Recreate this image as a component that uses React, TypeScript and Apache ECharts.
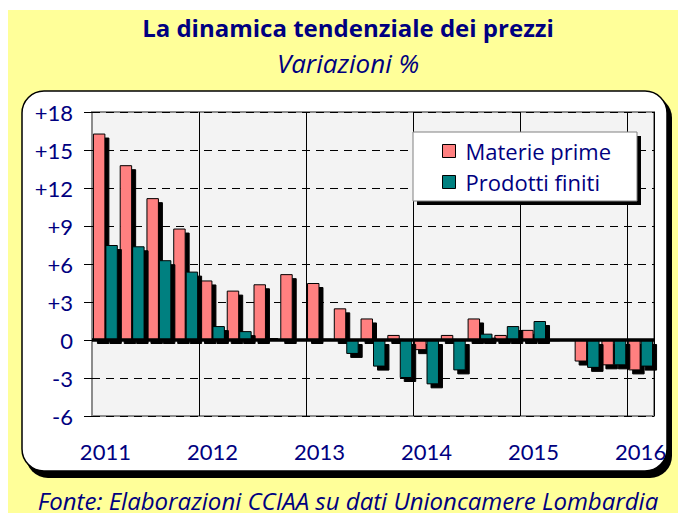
import React, { useEffect, useRef } from "react";
import * as echarts from "echarts";

const quarters = [
  "2011 T1", "2011 T2", "2011 T3", "2011 T4",
  "2012 T1", "2012 T2", "2012 T3", "2012 T4",
  "2013 T1", "2013 T2", "2013 T3", "2013 T4",
  "2014 T1", "2014 T2", "2014 T3", "2014 T4",
  "2015 T1", "2015 T2", "2015 T3", "2015 T4",
  "2016 T1",
];
const materiePrime = [16.3, 13.8, 11.2, 8.8, 4.7, 3.9, 4.4, 5.2, 4.5, 2.5, 1.7, 0.4, -0.8, 0.4, 1.7, 0.4, 0.8, -0.1, -1.7, -2.0, -2.4];
const prodottiFiniti = [7.5, 7.4, 6.3, 5.4, 1.1, 0.7, 0.15, 0.05, 0.1, -1.1, -2.1, -3.0, -3.5, -2.4, 0.5, 1.1, 1.5, 0.02, -2.2, -2.0, -2.1];
const seriesNames = ["Materie prime", "Prodotti finiti"];
const yMin = -6;
const yMax = 18;
const yStep = 3;

const NAVY = "#000080";
const FONT = "Lato";
const WIDE = "Open Sans";

export default function App() {
  const ref = useRef<HTMLDivElement>(null);
  useEffect(() => {
    if (!ref.current) return;
    const chart = echarts.init(ref.current, undefined, { renderer: "svg" });
    const barStyle = (color: string) => ({
      color,
      borderColor: "#000",
      borderWidth: 1,
      shadowColor: "#000",
      shadowBlur: 0,
      shadowOffsetX: 4,
      shadowOffsetY: 4,
    });
    chart.setOption({
      animation: false,
      backgroundColor: "#ffffff",
      textStyle: { fontFamily: FONT },
      title: [
        {
          text: "La dinamica tendenziale dei prezzi",
          left: 348,
          textAlign: "center",
          top: 14,
          padding: 0,
          textStyle: { fontFamily: WIDE, fontWeight: "bold", fontSize: 24, lineHeight: 26, color: NAVY },
        },
        {
          text: "Variazioni %",
          left: 348,
          textAlign: "center",
          top: 49,
          padding: 0,
          textStyle: { fontFamily: WIDE, fontStyle: "italic", fontWeight: "normal", fontSize: 26, lineHeight: 28, color: NAVY },
        },
        {
          text: "Fonte: Elaborazioni CCIAA su dati Unioncamere Lombardia",
          left: 348,
          textAlign: "center",
          top: 488,
          padding: 0,
          textStyle: { fontFamily: WIDE, fontStyle: "italic", fontWeight: "normal", fontSize: 24, lineHeight: 24, color: NAVY },
        },
      ],
      graphic: [
        { type: "rect", z: -100, shape: { x: 8, y: 10, width: 670, height: 503 }, style: { fill: "#FFFF99" } },
        { type: "rect", z: -99, shape: { x: 26, y: 96, width: 646, height: 382, r: 22 }, style: { fill: "#000" } },
        { type: "rect", z: -98, shape: { x: 22, y: 91, width: 645, height: 380, r: 22 }, style: { fill: "#fff", stroke: "#000", lineWidth: 1.5 } },
        { type: "rect", z: 50, shape: { x: 417, y: 136, width: 224, height: 69 }, style: { fill: "#000" } },
        { type: "rect", z: 51, shape: { x: 413, y: 132, width: 224, height: 69 }, style: { fill: "#fff", stroke: "#808080", lineWidth: 1 } },
      ],
      legend: {
        z: 60,
        orient: "vertical",
        left: 442,
        top: 140,
        padding: 0,
        itemWidth: 13,
        itemHeight: 13,
        itemGap: 9,
        icon: "rect",
        data: seriesNames,
        itemStyle: { borderColor: "#000", borderWidth: 1, shadowColor: "transparent", shadowOffsetX: 0, shadowOffsetY: 0 },
        textStyle: { fontFamily: WIDE, fontSize: 22, color: NAVY, lineHeight: 22, padding: [0, 0, 0, 5] },
      },
      grid: {
        left: 92,
        top: 112,
        right: 24,
        bottom: 97,
        show: true,
        backgroundColor: "#F3F3F3",
        borderColor: "#8C8C8C",
        borderWidth: 2,
      },
      xAxis: {
        type: "category",
        data: quarters,
        boundaryGap: true,
        axisLine: { show: false },
        axisTick: { show: false },
        axisLabel: {
          interval: (i: number) => i % 4 === 0,
          formatter: (v: string) => v.slice(0, 4),
          fontFamily: FONT,
          fontSize: 22,
          color: NAVY,
          margin: 24,
        },
        splitLine: {
          show: true,
          interval: (i: number) => i % 4 === 0 && i > 0,
          lineStyle: { color: "#000", width: 1 },
        },
      },
      yAxis: {
        type: "value",
        min: yMin,
        max: yMax,
        interval: yStep,
        axisLine: { show: false },
        axisTick: { show: true, length: 8, inside: false, lineStyle: { color: "#000", width: 1 } },
        axisLabel: {
          formatter: (v: number) => (v > 0 ? `+${v}` : `${v}`),
          fontFamily: FONT,
          fontSize: 22,
          color: NAVY,
          margin: 19,
        },
        splitLine: { show: true, lineStyle: { color: "#000", width: 1, type: [8, 6] } },
      },
      series: [
        {
          name: seriesNames[0],
          type: "bar",
          data: materiePrime,
          barGap: "0%",
          barCategoryGap: "7%",
          itemStyle: barStyle("#FF8080"),
          markLine: {
            silent: true,
            symbol: "none",
            label: { show: false },
            lineStyle: { color: "#000", width: 3.5, type: "solid" },
            data: [{ yAxis: 0 }],
            z: 10,
          },
        },
        {
          name: seriesNames[1],
          type: "bar",
          data: prodottiFiniti,
          barGap: "0%",
          barCategoryGap: "7%",
          itemStyle: barStyle("#008080"),
        },
      ],
    });
    return () => chart.dispose();
  }, []);
  return <div ref={ref} style={{ position: "absolute", left: 0, top: 0, width: 678, height: 513 }} />;
}
